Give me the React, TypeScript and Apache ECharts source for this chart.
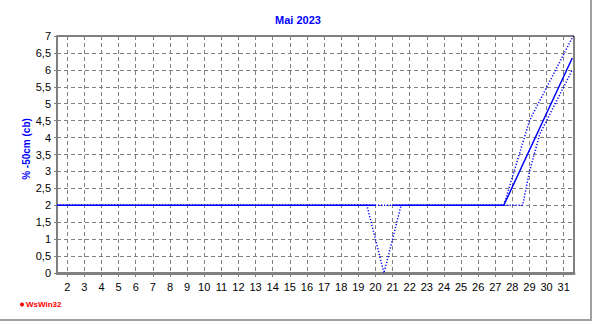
import React, { useEffect, useRef } from "react";
import * as echarts from "echarts";

const chartTitle = "Mai 2023";
const yAxisTitle = "% -50cm (cb)";
const footerText = "WsWin32";

const dayLabels = [2, 3, 4, 5, 6, 7, 8, 9, 10, 11, 12, 13, 14, 15, 16, 17, 18, 19, 20, 21, 22, 23, 24, 25, 26, 27, 28, 29, 30, 31];
const xMin = 1.4;
const xMax = 31.6;
const yMin = 0;
const yMax = 7;
const yStep = 0.5;

// mean (solid), max (dotted), min (dotted)
const meanX = [1.4, 20.0, 20.5, 21.0, 27.5, 31.5];
const meanY = [2, 2, null, 2, 2, 6.35];
const maxX = [1.4, 27.5, 29.0, 31.55];
const maxY = [2, 2, 4.5, 7.0];
const minX = [1.4, 19.5, 20.5, 21.5, 28.6, 29.0, 29.6, 31.5];
const minY = [2, 2, 0, 2, 2, 3.0, 4.1, 6.0];

const pairs = (xs: number[], ys: (number | null)[]) =>
  xs.map((x, i) => [x, ys[i] === null ? "-" : ys[i]]);

const minorTickValues: number[] = [];
for (let d = 1; d <= 32; d++) {
  for (let k = 0; k < 6; k++) {
    const v = d + k / 6;
    if (v >= xMin && v <= xMax) minorTickValues.push(v);
  }
}

export default function App() {
  const ref = useRef<HTMLDivElement>(null);
  useEffect(() => {
    document.body.style.margin = "0";
    const chart = echarts.init(ref.current!, null, { renderer: "svg" });
    const font = "'Liberation Sans', Arial, sans-serif";
    chart.setOption({
      animation: false,
      backgroundColor: "#ffffff",
      textStyle: { fontFamily: font },
      grid: {
        left: 57,
        top: 36,
        right: 18,
        bottom: 48,
        show: true,
        borderColor: "#000000",
        borderWidth: 1,
        backgroundColor: "transparent",
      },
      xAxis: [
        {
          type: "value",
          min: xMin,
          max: xMax,
          position: "bottom",
          axisLine: { show: true, lineStyle: { color: "#808080", width: 3 } },
          axisTick: { show: true, length: 4, customValues: dayLabels, lineStyle: { color: "#808080" } },
          axisLabel: {
            customValues: dayLabels,
            color: "#000",
            fontSize: 11,
            fontFamily: font,
            margin: 8,
          },
          splitLine: { show: true, lineStyle: { color: "#808080", type: [4, 3], width: 1 } },
        },
        {
          type: "value",
          min: xMin,
          max: xMax,
          position: "bottom",
          axisLine: { show: false },
          axisTick: { show: true, length: 2, customValues: minorTickValues, lineStyle: { color: "#808080" } },
          axisLabel: { show: false },
          splitLine: { show: false },
        },
      ],
      yAxis: {
        type: "value",
        min: yMin,
        max: yMax,
        interval: yStep,
        axisLine: { show: true, lineStyle: { color: "#808080", width: 2 } },
        axisTick: { show: true, length: 3, lineStyle: { color: "#808080" } },
        axisLabel: {
          color: "#000",
          fontSize: 11,
          fontFamily: font,
          margin: 6,
          formatter: (v: number) => String(v).replace(".", ","),
        },
        splitLine: { show: true, lineStyle: { color: "#808080", type: [4, 3], width: 1 } },
      },
      series: [
        {
          type: "line",
          data: pairs(maxX, maxY),
          showSymbol: false,
          lineStyle: { color: "#0000ff", width: 1.5, type: [1.2, 1.8] },
          z: 3,
        },
        {
          type: "line",
          data: pairs(minX, minY),
          showSymbol: false,
          lineStyle: { color: "#0000ff", width: 1.5, type: [1.2, 1.8] },
          z: 3,
        },
        {
          type: "line",
          data: pairs(meanX, meanY),
          showSymbol: false,
          connectNulls: false,
          lineStyle: { color: "#0000ff", width: 1.5 },
          z: 4,
        },
      ],
      graphic: [
        {
          type: "text",
          left: 275,
          top: 14,
          style: { text: chartTitle, fill: "#0000ff", font: `bold 11px ${font}` },
        },
        {
          type: "text",
          x: 26,
          y: 149,
          rotation: Math.PI / 2,
          style: {
            text: yAxisTitle,
            fill: "#0000ff",
            font: `bold 10px ${font}`,
            align: "center",
            verticalAlign: "middle",
          },
        },
        {
          type: "circle",
          shape: { cx: 22, cy: 304.5, r: 2 },
          style: { fill: "#ff0000" },
        },
        {
          type: "text",
          x: 26,
          y: 304.5,
          style: { text: footerText, fill: "#ff0000", font: `bold 8px ${font}`, verticalAlign: "middle" },
        },
        { type: "rect", shape: { x: 0, y: 319, width: 592, height: 2 }, style: { fill: "#a0a0a0" } },
        { type: "rect", shape: { x: 590, y: 0, width: 2, height: 321 }, style: { fill: "#a0a0a0" } },
      ],
    });
    return () => chart.dispose();
  }, []);
  return (
    <div
      ref={ref}
      style={{ position: "absolute", left: 0, top: 0, width: 592, height: 321 }}
    />
  );
}
